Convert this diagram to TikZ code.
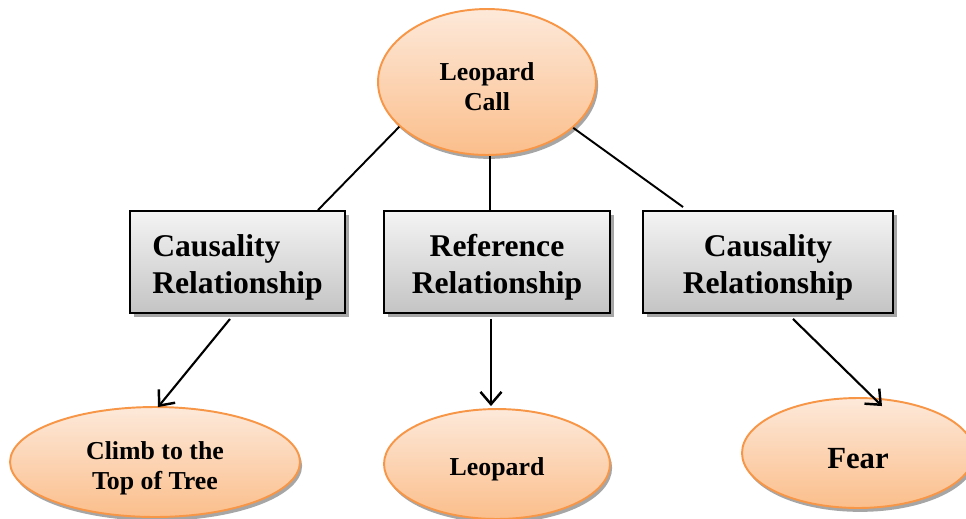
\documentclass[tikz,border=0pt]{standalone}
\usepackage{fontspec}
\setmainfont{Liberation Serif}
\usetikzlibrary{shapes.geometric,shadows,arrows.meta,calc}

\definecolor{peachtop}{HTML}{FDE9DA}
\definecolor{peachbot}{HTML}{FBBE8B}
\definecolor{peachline}{HTML}{F79646}
\definecolor{boxtop}{HTML}{F4F4F4}
\definecolor{boxbot}{HTML}{C4C4C4}
\definecolor{shadowgray}{HTML}{9C9C9C}

% node text: a tabular lowered by #2, taking no vertical room of its own
\newcommand{\lowtext}[3][c]{\raisebox{#2}[0pt][0pt]{\begin{tabular}{@{}#1@{}}#3\end{tabular}}}

\tikzset{
  oval/.style={ellipse, draw=peachline, line width=1.1pt,
    top color=peachtop, bottom color=peachbot, inner sep=0pt,
    font=\bfseries\fontsize{14.7}{17}\selectfont,
    drop shadow={shadow xshift=1.2pt, shadow yshift=-2.2pt, fill=shadowgray, opacity=0.9}},
  relbox/.style={rectangle, draw=black, line width=1.1pt,
    top color=boxtop, bottom color=boxbot, inner sep=0pt,
    font=\bfseries\fontsize{18}{21.2}\selectfont,
    drop shadow={shadow xshift=2.2pt, shadow yshift=-2.2pt, fill=shadowgray, opacity=0.9}},
  link/.style={line width=1.1pt},
  arrowlink/.style={line width=1.2pt,
    -{Straight Barb[length=7pt,width=12pt,line width=1.4pt]}}
}

\begin{document}
\begin{tikzpicture}[x=0.02cm,y=-0.02cm]
  \useasboundingbox (0,0) rectangle (966,518);

  % root call
  \node[oval, minimum width=4.36cm, minimum height=2.92cm] (call) at (487,82)
    {\lowtext{-7.8pt}{Leopard\\Call}};

  % relationship boxes
  \node[relbox, minimum width=4.3cm, minimum height=2.04cm] (causeL) at (237.5,262)
    {\lowtext[l]{-7.5pt}{Causality\\Relationship}};
  \node[relbox, minimum width=4.52cm, minimum height=2.04cm] (refer) at (497,262)
    {\lowtext{-7.5pt}{Reference\\Relationship}};
  \node[relbox, minimum width=5.0cm, minimum height=2.04cm] (causeR) at (768,262)
    {\lowtext{-7.5pt}{Causality\\Relationship}};

  % outcomes
  \node[oval, minimum width=5.8cm, minimum height=2.2cm] (climb) at (155,462)
    {\lowtext{-7.3pt}{Climb to the\\Top of Tree}};
  \node[oval, minimum width=4.52cm, minimum height=2.2cm] (leopard) at (497,464)
    {\lowtext{-7pt}{Leopard}};
  \node[oval, minimum width=4.64cm, minimum height=2.2cm,
        font=\bfseries\fontsize{17.5}{20}\selectfont] (fear) at (858,453)
    {\lowtext{-9pt}{Fear}};

  % links from the call to the relationships
  \draw[link] (call.207) -- ($(causeL.north east)+(-28,0)$);
  \draw[link] (call.south -| 490,0) -- (refer.north -| 490,0);
  \draw[link] (call.332) -- ($(causeR.north west)+(41,-3)$);

  % arrows to the outcomes
  \draw[arrowlink] ($(causeL.south)+(-7.5,5)$) -- ($(climb.north)+(3,1)$);
  \draw[arrowlink] ($(refer.south)+(-6,5)$) -- ($(leopard.north)+(-6,-2)$);
  \draw[arrowlink] ($(causeR.south)+(25,5)$) -- ($(fear.north)+(24,9)$);
\end{tikzpicture}
\end{document}
